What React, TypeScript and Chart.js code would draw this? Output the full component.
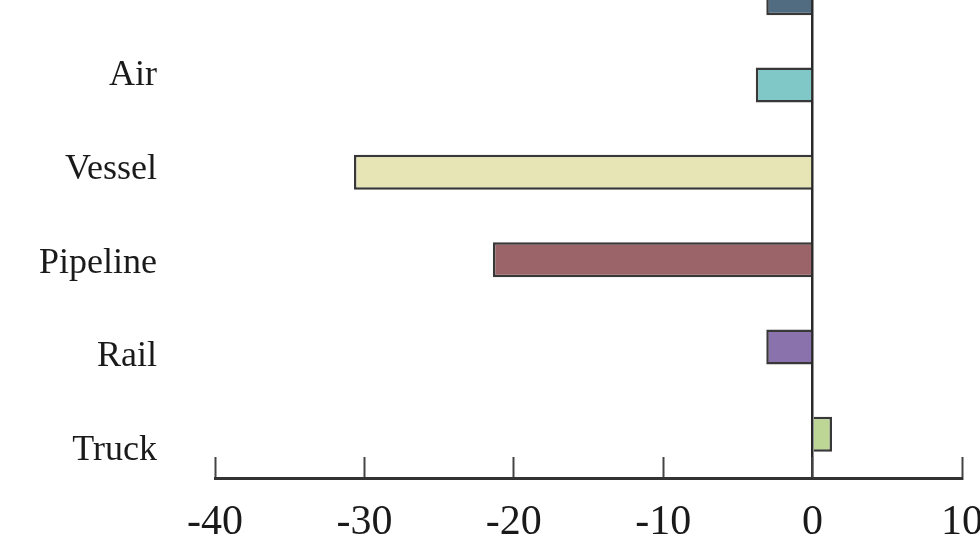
import React, { useEffect, useRef } from "react";
import { Chart, registerables } from "chart.js";

Chart.register(...registerables);

// Categories from top to bottom (top one is cropped in the reference)
const categories = ["Other", "Air", "Vessel", "Pipeline", "Rail", "Truck"];
// Change values (x axis units)
const values = [-3.1, -3.8, -30.7, -21.4, -3.1, 1.3];
const barColors = ["#516c80", "#80c7c7", "#e7e4b6", "#9b6468", "#8a72ad", "#bdd696"];
const xMin = -40;
const xMax = 10;
const xStep = 10;

export default function App() {
  const ref = useRef<HTMLCanvasElement | null>(null);

  useEffect(() => {
    if (!ref.current) return;
    const chart = new Chart(ref.current, {
      type: "bar",
      data: {
        labels: categories,
        datasets: [
          {
            data: values,
            backgroundColor: barColors,
            borderColor: "#383838",
            borderWidth: 2.5,
            categoryPercentage: 1,
            barPercentage: 0.4,
            yAxisID: "y",
          },
        ],
      },
      options: {
        indexAxis: "y",
        responsive: false,
        animation: false,
        events: [],
        layout: { padding: { top: 14, right: 18, left: 0, bottom: 0 } },
        plugins: { legend: { display: false }, tooltip: { enabled: false } },
        scales: {
          x: {
            type: "linear",
            position: "bottom",
            min: xMin,
            max: xMax,
            ticks: {
              stepSize: xStep,
              padding: 41,
              color: "#1a1a1a",
              font: { family: "'Liberation Serif', 'Times New Roman', serif", size: 42 },
              callback: (v: any) => String(v),
            },
            grid: {
              drawOnChartArea: true,
              color: (c: any) => (c.tick && c.tick.value === 0 ? "#2a2a2a" : "rgba(0,0,0,0)"),
              lineWidth: (c: any) => (c.tick && c.tick.value === 0 ? 2.5 : 1),
              drawTicks: true,
              tickLength: -21,
              tickColor: "#444",
              tickWidth: 2,
            },
            border: { display: true, color: "#333", width: 3 },
            afterFit: (scale: any) => {
              scale.height = 74;
              scale.paddingLeft = 0;
              scale.paddingRight = 0;
              scale.paddingTop = 0;
              scale.paddingBottom = 0;
            },
          },
          y: {
            type: "category",
            display: false,
            offset: true,
          },
          yl: {
            type: "linear",
            position: "left",
            reverse: true,
            offset: false,
            min: -0.2998,
            max: 5.2925,
            grid: { display: false, offset: false },
            border: { display: false },
            ticks: {
              stepSize: 1,
              includeBounds: false,
              autoSkip: false,
              padding: 50,
              color: "#1a1a1a",
              font: { family: "'Liberation Serif', 'Times New Roman', serif", size: 36 },
              callback: (v: any) => {
                const i = Math.round(Number(v));
                return Math.abs(Number(v) - i) < 1e-6 && categories[i] ? categories[i] : "";
              },
            },
            afterFit: (scale: any) => {
              scale.width = 215;
              scale.paddingLeft = 0;
              scale.paddingRight = 0;
              scale.paddingTop = 0;
              scale.paddingBottom = 0;
            },
          },
        },
      },
    });
    return () => chart.destroy();
  }, []);

  return (
    <div style={{ position: "absolute", left: 0, top: -60, width: 980, height: 612 }}>
      <canvas ref={ref} width={980} height={612} />
    </div>
  );
}
